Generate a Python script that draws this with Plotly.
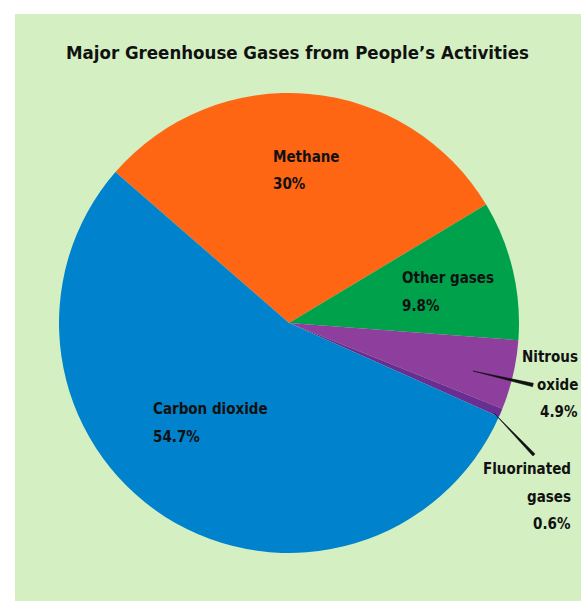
import math
import plotly.graph_objects as go

# Data
categories = ["Methane", "Other gases", "Nitrous oxide", "Fluorinated gases", "Carbon dioxide"]
values = [30, 9.8, 4.9, 0.6, 54.7]
colors = ["#FF6614", "#00A14B", "#8E3E9C", "#6A2D91", "#0083CC"]
title_text = "Major Greenhouse Gases from People\u2019s Activities"
label_lines = {
    "Methane": ["Methane", "30%"],
    "Other gases": ["Other gases", "9.8%"],
    "Carbon dioxide": ["Carbon dioxide", "54.7%"],
    "Nitrous oxide": ["Nitrous", "oxide", "4.9%"],
    "Fluorinated gases": ["Fluorinated", "gases", "0.6%"],
}

W, H = 581, 601
BG = "#D4F0C3"
FONT = "DejaVu Sans Condensed, Liberation Sans Narrow, sans-serif"

def px(x):
    return x / W

def py(y):
    return 1 - y / H

fig = go.Figure()
fig.add_trace(go.Pie(
    labels=categories,
    values=values,
    sort=False,
    direction="clockwise",
    rotation=-49,
    marker=dict(colors=colors, line=dict(width=0)),
    textinfo="none",
    hoverinfo="label+percent",
    showlegend=False,
    domain=dict(x=[px(289 - 230), px(289 + 230)], y=[py(323 + 230), py(323 - 230)]),
))

shapes = [
    dict(type="rect", xref="paper", yref="paper", x0=px(15), x1=1.0, y0=0.0, y1=py(14),
         fillcolor=BG, line=dict(width=0), layer="below"),
]

def wedge(x0, y0, x1, y1, w):
    # tapered leader line: thin at (x0,y0), w px thick at (x1,y1)
    dx, dy = x1 - x0, y1 - y0
    L = math.hypot(dx, dy)
    nx, ny = -dy / L * w / 2, dx / L * w / 2
    pts = [(x0, y0), (x1 + nx, y1 + ny), (x1 - nx, y1 - ny)]
    path = "M " + " L ".join(f"{px(a):.5f},{py(b):.5f}" for a, b in pts) + " Z"
    return dict(type="path", xref="paper", yref="paper", path=path,
                fillcolor="#111111", line=dict(color="#111111", width=0.5), layer="above")

shapes.append(wedge(473, 371, 533, 385, 3.5))
shapes.append(wedge(494, 413, 534, 455, 3.0))

LBL = 15
# label placement: (anchor x, first line y, xanchor)
placement = {
    "Methane": (271, 157, "left"),
    "Other gases": (400, 278, "left"),
    "Carbon dioxide": (151, 409, "left"),
    "Nitrous oxide": (580, 357, "right"),
    "Fluorinated gases": (573, 469, "right"),
}
LINE_GAP = 27.5

annotations = [
    dict(text="<b>" + title_text + "</b>", x=px(297), y=py(52), xanchor="center", yanchor="middle",
         font=dict(size=18.5, color="#111111", family=FONT)),
]
for cat in categories:
    x0, y0, xa = placement[cat]
    for i, line in enumerate(label_lines[cat]):
        annotations.append(dict(text="<b>" + line + "</b>", x=px(x0), y=py(y0 + i * LINE_GAP),
                                xanchor=xa, yanchor="middle", align=xa,
                                font=dict(size=LBL, color="#111111", family=FONT)))
for a in annotations:
    a.update(xref="paper", yref="paper", showarrow=False)

fig.update_layout(
    width=W, height=H,
    margin=dict(l=0, r=0, t=0, b=0),
    paper_bgcolor="white",
    plot_bgcolor="white",
    shapes=shapes,
    annotations=annotations,
)

fig.write_html("out.html", config={"displayModeBar": False},
               post_script="document.body.style.margin='0';document.body.style.overflow='hidden';")
